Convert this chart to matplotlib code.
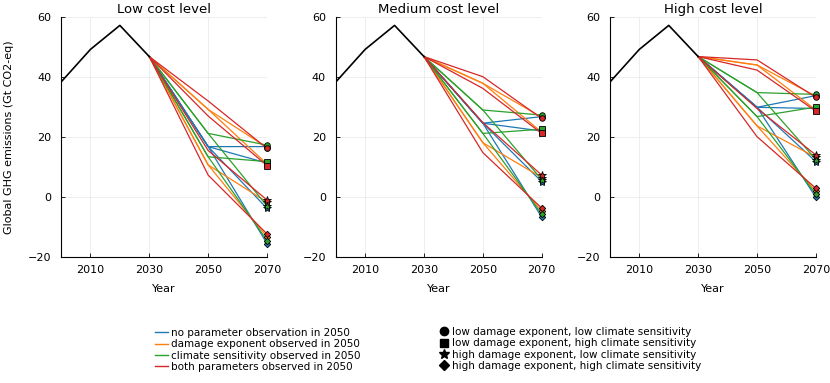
import matplotlib
matplotlib.use("Agg")
import matplotlib.pyplot as plt
from matplotlib.lines import Line2D

# ---------------- data ----------------
hist_years = [2000, 2010, 2020, 2030]
hist_emissions = [38.3, 49.2, 57.2, 46.8]
scenario_years = [2030, 2050, 2070]

panel_titles = ["Low cost level", "Medium cost level", "High cost level"]
series_labels = ["no parameter observation in 2050",
                 "damage exponent observed in 2050",
                 "climate sensitivity observed in 2050",
                 "both parameters observed in 2050"]
state_labels = ["low damage exponent, low climate sensitivity",
                "low damage exponent, high climate sensitivity",
                "high damage exponent, low climate sensitivity",
                "high damage exponent, high climate sensitivity"]
state_markers = ["o", "s", "*", "D"]
series_colors = ["#1f77b4", "#ff7f0e", "#2ca02c", "#d62728"]

# values per state: circle, square, star, diamond
low_2050_none = [16.8, 16.8, 16.8, 16.8]
low_2050_damage = [29.2, 29.2, 10.7, 10.7]
low_2050_climate = [21.2, 13.4, 21.2, 13.4]
low_2050_both = [32.0, 27.0, 15.5, 7.3]
low_2070_none = [16.8, 11.3, -3.8, -15.5]
low_2070_damage = [16.5, 11.0, -1.7, -13.3]
low_2070_climate = [17.3, 11.8, -3.0, -14.5]
low_2070_both = [16.2, 10.5, -1.0, -12.3]

med_2050_none = [24.6, 24.6, 24.6, 24.6]
med_2050_damage = [37.9, 37.9, 18.1, 18.1]
med_2050_climate = [29.0, 21.2, 29.0, 21.2]
med_2050_both = [40.1, 36.2, 24.8, 14.8]
med_2070_none = [26.8, 22.0, 5.1, -6.7]
med_2070_damage = [26.6, 21.6, 6.5, -4.7]
med_2070_climate = [27.3, 22.6, 5.8, -5.7]
med_2070_both = [26.2, 21.2, 7.3, -3.7]

high_2050_none = [29.9, 29.9, 29.9, 29.9]
high_2050_damage = [44.0, 44.0, 23.7, 23.7]
high_2050_climate = [34.8, 26.8, 34.8, 26.8]
high_2050_both = [45.7, 42.3, 29.5, 20.1]
high_2070_none = [33.8, 29.5, 11.8, -0.1]
high_2070_damage = [33.6, 29.0, 13.2, 1.9]
high_2070_climate = [34.2, 30.0, 12.5, 0.9]
high_2070_both = [33.2, 28.6, 14.0, 2.9]

panels_2050 = [
    [low_2050_none, low_2050_damage, low_2050_climate, low_2050_both],
    [med_2050_none, med_2050_damage, med_2050_climate, med_2050_both],
    [high_2050_none, high_2050_damage, high_2050_climate, high_2050_both],
]
panels_2070 = [
    [low_2070_none, low_2070_damage, low_2070_climate, low_2070_both],
    [med_2070_none, med_2070_damage, med_2070_climate, med_2070_both],
    [high_2070_none, high_2070_damage, high_2070_climate, high_2070_both],
]

# ---------------- figure ----------------
W, H = 830, 383
fig = plt.figure(figsize=(W / 100, H / 100), dpi=100)
plt.rcParams["font.family"] = ["DejaVu Sans"]

lefts = [61, 335.7, 609.9]
ax_w = 206
ax_top, ax_bot = 17, 257
marker_sizes = {"o": 4.0, "s": 3.7, "*": 6.0, "D": 3.3}

for p in range(3):
    ax = fig.add_axes([lefts[p] / W, (H - ax_bot) / H, ax_w / W, (ax_bot - ax_top) / H])
    ax.plot(hist_years, hist_emissions, color="black", lw=1.2, zorder=3)
    start = hist_emissions[-1]
    for c in range(4):
        for s in range(4):
            ax.plot(scenario_years,
                    [start, panels_2050[p][c][s], panels_2070[p][c][s]],
                    color=series_colors[c], lw=0.9, zorder=2 + 0.1 * c)
    for c in range(4):
        for s in range(4):
            m = state_markers[s]
            ax.plot([scenario_years[-1]], [panels_2070[p][c][s]], linestyle="none",
                    marker=m, markersize=marker_sizes[m],
                    markerfacecolor=series_colors[c], markeredgecolor="black",
                    markeredgewidth=0.6, clip_on=False, zorder=5)
    ax.set_xlim(2000, 2070)
    ax.set_ylim(-20, 60)
    ax.set_xticks([2010, 2030, 2050, 2070])
    ax.set_yticks([-20, 0, 20, 40, 60])
    ax.set_yticklabels(["\u221220", "0", "20", "40", "60"])
    ax.grid(True, color="#ebebeb", lw=0.6, zorder=0)
    ax.set_axisbelow(True)
    for side in ("top", "right"):
        ax.spines[side].set_visible(False)
    for side in ("left", "bottom"):
        ax.spines[side].set_color("black")
        ax.spines[side].set_linewidth(0.8)
    ax.tick_params(axis="both", direction="in", length=3, width=0.6, labelsize=8)
    ax.tick_params(axis="x", pad=6)
    ax.tick_params(axis="y", pad=7)
    ax.set_title(panel_titles[p], fontsize=9.5, pad=3)
    ax.set_xlabel("Year", fontsize=8, labelpad=6)
    if p == 0:
        ax.set_ylabel("Global GHG emissions (Gt CO2-eq)", fontsize=8, labelpad=10)

# legends
line_handles = [Line2D([], [], color=series_colors[c], lw=1.0) for c in range(4)]
fig.legend(line_handles, series_labels, loc="center left",
           bbox_to_anchor=(155 / W, (H - 350) / H), frameon=False,
           fontsize=7.5, handlelength=1.2, handletextpad=0.35,
           labelspacing=0.12, borderpad=0, borderaxespad=0)

legend_ms = {"o": 6.0, "s": 6.0, "*": 7.5, "D": 5.0}
marker_handles = [Line2D([], [], linestyle="none", marker=state_markers[s],
                         markersize=legend_ms[state_markers[s]],
                         markerfacecolor="black", markeredgecolor="black")
                  for s in range(4)]
fig.legend(marker_handles, state_labels, loc="center left",
           bbox_to_anchor=(440 / W, (H - 349) / H), frameon=False,
           fontsize=7.5, handlelength=0.8, handletextpad=0.35,
           labelspacing=0.12, borderpad=0, borderaxespad=0)

fig.savefig("out.png", dpi=100)
